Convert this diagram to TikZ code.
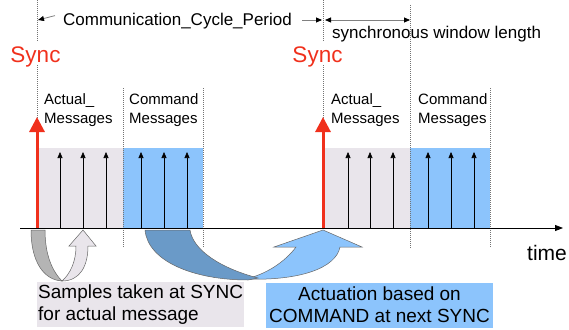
\documentclass[tikz,border=0pt]{standalone}
\usepackage{fontspec}
\setmainfont{Liberation Sans}
\usetikzlibrary{arrows.meta}
\definecolor{actualbg}{HTML}{E9E5EB}
\definecolor{commandbg}{HTML}{8CC4FC}
\definecolor{commanddark}{HTML}{6A9AC8}
\definecolor{syncred}{HTML}{F0301C}
\definecolor{samplegray}{HTML}{B4B4B4}

\begin{document}
\begin{tikzpicture}[x=1pt,y=-1pt,
  marker/.style={black!55,dash pattern=on 1pt off 1pt,line width=0.8pt},
  msg/.style={-{Triangle[length=6pt,width=5pt]},line width=0.6pt},
  dim/.style={black!50,line width=0.8pt},
  dimtip/.style={-{Triangle[length=6pt,width=5pt,color=black]}},
  bent/.style={draw=black!60,line width=0.5pt},
  msglabel/.style={font=\fontsize{15}{19}\selectfont,align=left,inner sep=0pt,anchor=west},
  synclabel/.style={font=\fontsize{22.5}{26}\selectfont,text=syncred,anchor=base},
  note/.style={font=\fontsize{19}{22}\selectfont,inner sep=1pt,minimum height=45pt}]
\useasboundingbox (0,0) rectangle (569,329);

% Sync instants on the time axis
\coordinate (sync1) at (37,228);
\coordinate (sync2) at (323,228);

% Message windows
\fill[actualbg] (38,148) rectangle (123,228);
\fill[commandbg] (123,148) rectangle (203,228);
\fill[actualbg] (324,148) rectangle (410,228);
\fill[commandbg] (410,148) rectangle (490,228);

% Window borders
\draw[marker] (37,0) -- (37,42);
\draw[marker] (37,65) -- (37,118);
\draw[marker] (323,0) -- (323,42);
\draw[marker] (323,65) -- (323,118);
\draw[marker] (123,88) -- (123,248);
\draw[marker] (203,88) -- (203,248);
\draw[marker] (410,5) -- (410,248);
\draw[marker] (490,88) -- (490,248);

% Messages
\foreach \x in {60,83,106,141,164,187,348,370,393,428,451,474}
  \draw[msg] (\x,228) -- (\x,152);

% Sampling arrow
\filldraw[bent,fill=samplegray] (31,230) .. controls (31,262) and (44,280) .. (62,281)
  .. controls (53,272) and (45,256) .. (45,230) -- cycle;
\filldraw[bent,fill=actualbg] (62,281) .. controls (80,281) and (88,266) .. (88,246)
  -- (96,246) -- (83,230) -- (69,246) -- (76,246)
  .. controls (76,262) and (70,274) .. (62,281) -- cycle;

% Actuation arrow
\filldraw[bent,fill=commandbg] (245,279) .. controls (300,281) and (336,268) .. (340,247)
  -- (362,247) -- (323,230) -- (274,247) -- (296,247)
  .. controls (285,262) and (265,275) .. (245,279) -- cycle;
\filldraw[bent,fill=commanddark] (145,230) .. controls (148,262) and (195,280) .. (248,280)
  -- (258,278) .. controls (220,268) and (193,250) .. (190,230) -- cycle;

% Time axis
\draw[line width=0.8pt,-{Triangle[length=8pt,width=6pt]}] (20,228) -- (563,228);
\node[font=\fontsize{21}{24}\selectfont,anchor=base west,inner sep=0pt] (time) at (527,260) {time};

% Sync pulses
\draw[syncred,line width=3pt,-{Triangle[length=15pt,width=15pt]}] (sync1) -- (37,117);
\draw[syncred,line width=3pt,-{Triangle[length=15pt,width=15pt]}] (sync2) -- (323,117);
\node[synclabel] (sync1label) at (35.5,62) {Sync};
\node[synclabel] (sync2label) at (317.5,62) {Sync};

% Window labels
\node[msglabel] (actual1) at (44,110) {Actual\_\\Messages};
\node[msglabel] (command1) at (129,110) {Command\\Messages};
\node[msglabel] (actual2) at (331,110) {Actual\_\\Messages};
\node[msglabel] (command2) at (418,110) {Command\\Messages};

% Cycle period and window length
\node[font=\fontsize{17}{20}\selectfont,anchor=base west,inner sep=0pt] (period) at (63,26) {Communication\_Cycle\_Period};
\draw[dim,dimtip] (period.west) ++(-8,-6) coordinate (pl) -- (38,20);
\draw[dim,dimtip] (302,20) -- (322,20);
\draw[dim,{Triangle[length=6pt,width=5pt,color=black]}-{Triangle[length=6pt,width=5pt,color=black]}] (325,20) -- (410,20);
\node[font=\fontsize{17}{20}\selectfont,anchor=base west,inner sep=0pt] (window) at (332,38) {synchronous window length};

% Notes
\node[note,fill=actualbg,align=left,anchor=west] (samples) at (37,304.5)
  {Samples taken at SYNC\\for actual message};
\node[note,fill=commandbg,minimum width=227pt,align=center] (actuation) at (379.5,305)
  {Actuation based on\\COMMAND at next SYNC};
\end{tikzpicture}
\end{document}
